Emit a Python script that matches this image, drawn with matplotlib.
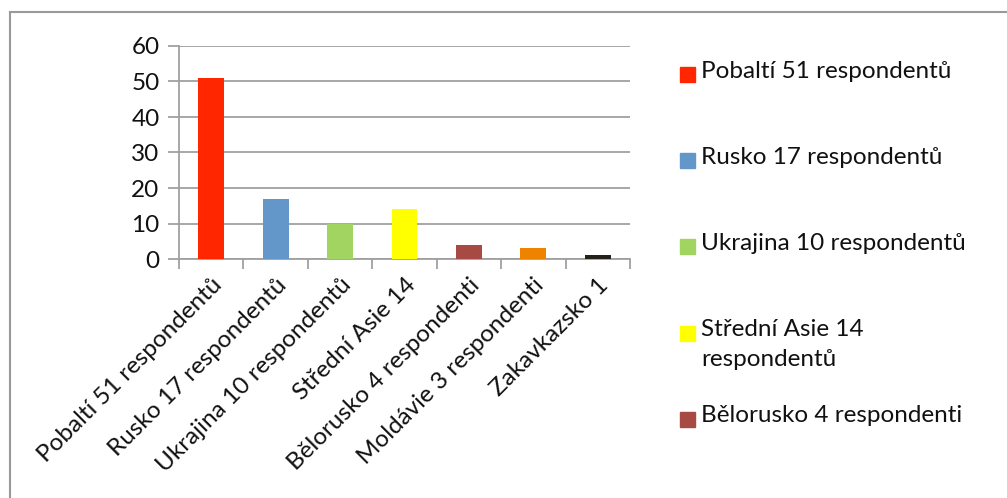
import matplotlib
matplotlib.use("Agg")
import matplotlib.pyplot as plt
from matplotlib.lines import Line2D
from matplotlib.patches import Rectangle

plt.rcParams['font.family'] = ['Lato', 'DejaVu Sans']

# data
categories = ["Pobaltí 51 respondentů", "Rusko 17 respondentů", "Ukrajina 10 respondentů",
              "Střední Asie 14", "Bělorusko 4 respondenti", "Moldávie 3 respondenti",
              "Zakavkazsko 1"]
legend_labels = ["Pobaltí 51 respondentů", "Rusko 17 respondentů", "Ukrajina 10 respondentů",
                 "Střední Asie 14\nrespondentů", "Bělorusko 4 respondenti"]
values = [51, 17, 10, 14, 4, 3, 1]
colors = ["#FF2600", "#6396C9", "#A2D462", "#FFFF00", "#A84A44", "#EE8300", "#24211A"]
yticks = [0, 10, 20, 30, 40, 50, 60]

grid_col = "#A0A0A0"
fs = 17.5

fig = plt.figure(figsize=(10.07, 4.98), dpi=100)
ax = fig.add_axes([179/1007, 1 - 259/498, 451/1007, (259 - 46)/498])

xs = list(range(len(values)))
bars = ax.bar(xs, values, width=0.4, color=colors, zorder=3)

ax.set_xlim(-0.5, len(values) - 0.5)
ax.set_ylim(0, 60)
ax.set_yticks(yticks)
ax.set_yticklabels([str(t) for t in yticks], fontsize=fs, color="#111111")
ax.yaxis.grid(True, color=grid_col, linewidth=1.3, zorder=0)
ax.tick_params(axis='y', length=8, width=1.3, color=grid_col, pad=6)

# category ticks sit between the bars
ax.set_xticks([x - 0.5 for x in xs] + [len(values) - 0.5])
ax.set_xticklabels([])
ax.tick_params(axis='x', length=7, width=1.3, color=grid_col)
ax.set_xticks(xs, minor=True)
ax.set_xticklabels(categories, minor=True, rotation=45, ha='right',
                   rotation_mode='anchor', fontsize=fs, color="#111111")
ax.tick_params(axis='x', which='minor', length=0, pad=11)

for side in ['top', 'right']:
    ax.spines[side].set_visible(False)
for side in ['left', 'bottom']:
    ax.spines[side].set_color(grid_col)
    ax.spines[side].set_linewidth(1.3)

# legend, first five entries only (truncated like in the original)
top_y = 1 - 75/498
step = 86/498
for i, lab in enumerate(legend_labels):
    yc = top_y - i * step
    fig.patches.append(Rectangle((680/1007, yc - 7.5/498), 15/1007, 15/498,
                                 color=colors[i], transform=fig.transFigure))
    fig.text(701/1007, yc + 14/498, lab, fontsize=fs, va='top', ha='left',
             linespacing=1.5, color="#111111")

# outer frame (only top and left edges visible)
fig.add_artist(Line2D([9.5/1007, 9.5/1007], [0, 1 - 12/498], color="#999999",
                      linewidth=1.5, transform=fig.transFigure))
fig.add_artist(Line2D([9.5/1007, 1], [1 - 12/498, 1 - 12/498], color="#999999",
                      linewidth=1.5, transform=fig.transFigure))

fig.savefig("out.png", dpi=100)
